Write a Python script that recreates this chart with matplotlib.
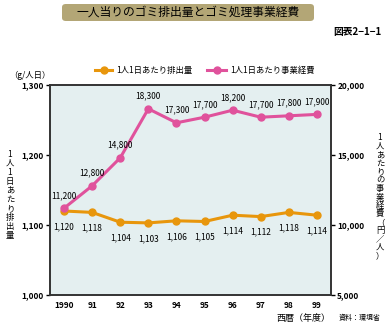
import matplotlib
matplotlib.use("Agg")
import matplotlib.pyplot as plt
from matplotlib.patches import FancyBboxPatch

plt.rcParams['font.family'] = ['Noto Sans CJK JP', 'DejaVu Sans']

# ── data ──────────────────────────────────────────────
years = ["1990", "91", "92", "93", "94", "95", "96", "97", "98", "99"]
waste_g = [1120, 1118, 1104, 1103, 1106, 1105, 1114, 1112, 1118, 1114]
cost_yen = [11200, 12800, 14800, 18300, 17300, 17700, 18200, 17700, 17800, 17900]

ORANGE = "#e8960c"
PINK = "#e0529c"
BG = "#e4eff0"

fig = plt.figure(figsize=(3.9, 3.24), dpi=100)
ax = fig.add_axes([50 / 390, 1 - 295 / 324, 281 / 390, 210 / 324])
ax2 = ax.twinx()

x = list(range(len(years)))
ax.set_facecolor(BG)
ax.plot(x, waste_g, color=ORANGE, lw=2.2, marker="o", ms=5, zorder=3)
ax2.plot(x, cost_yen, color=PINK, lw=2.2, marker="o", ms=5, zorder=3)

ax.set_xlim(-0.5, 9.5)
ax.set_ylim(1000, 1300)
ax2.set_ylim(5000, 20000)
ax.set_yticks([1000, 1100, 1200, 1300])
ax.set_yticklabels([f"{v:,}" for v in [1000, 1100, 1200, 1300]])
ax2.set_yticks([5000, 10000, 15000, 20000])
ax2.set_yticklabels([f"{v:,}" for v in [5000, 10000, 15000, 20000]])
ax.set_xticks(x)
ax.set_xticklabels(years)

for a in (ax, ax2):
    a.tick_params(labelsize=6, length=3, width=1, pad=1.5)
    for lab in a.get_xticklabels() + a.get_yticklabels():
        lab.set_fontweight("bold")
    for s in a.spines.values():
        s.set_linewidth(1.2)
        s.set_color("#333333")
ax.tick_params(axis="x", length=0, pad=4)

# value labels
for i, v in enumerate(waste_g):
    ax.annotate(f"{v:,}", (i, v), xytext=(0, -8), textcoords="offset points",
                ha="center", va="top", fontsize=6)
for i, v in enumerate(cost_yen):
    ax2.annotate(f"{v:,}", (i, v), xytext=(0, 6), textcoords="offset points",
                 ha="center", va="bottom", fontsize=6)

# title box
box = FancyBboxPatch((62 / 390, 1 - 21 / 324), 252 / 390, 17 / 324,
                     boxstyle="round,pad=0,rounding_size=0.01",
                     transform=fig.transFigure, fc="#b3a676", ec="none")
fig.patches.append(box)
fig.text(188 / 390, 1 - 12.5 / 324, "一人当りのゴミ排出量とゴミ処理事業経費",
         ha="center", va="center", fontsize=8.5)
fig.text(382 / 390, 1 - 32 / 324, "図表2−1−1", ha="right", va="center",
         fontsize=7, fontweight="bold")

# legend
fig.add_artist(plt.Line2D([95 / 390, 103.5 / 390, 112 / 390], [1 - 70 / 324] * 3,
                          color=ORANGE, lw=2.2, marker="o", ms=5, markevery=[1],
                          transform=fig.transFigure))
fig.text(116 / 390, 1 - 70 / 324, "1人1日あたり排出量", ha="left", va="center",
         fontsize=6)
fig.add_artist(plt.Line2D([207 / 390, 216.5 / 390, 226 / 390], [1 - 70 / 324] * 3,
                          color=PINK, lw=2.2, marker="o", ms=5, markevery=[1],
                          transform=fig.transFigure))
fig.text(230 / 390, 1 - 70 / 324, "1人1日あたり事業経費", ha="left", va="center",
         fontsize=6)

fig.text(30 / 390, 1 - 75 / 324, "（g/人日）", ha="center", va="center",
         fontsize=6)

# vertical axis titles (stacked characters)
fig.text(10 / 390, 1 - 195 / 324, "\n".join("1人1日あたり排出量"),
         ha="center", va="center", fontsize=6, linespacing=1.0)
fig.text(380 / 390, 1 - 197 / 324, "\n".join("1人あたりの事業経費（円／人）"),
         ha="center", va="center", fontsize=6, linespacing=0.92)

fig.text(303 / 390, 1 - 318 / 324, "西暦（年度）", ha="center", va="center",
         fontsize=6.5)
fig.text(360 / 390, 1 - 318 / 324, "資料：環境省", ha="center", va="center",
         fontsize=5)

fig.savefig("out.png", dpi=100)
